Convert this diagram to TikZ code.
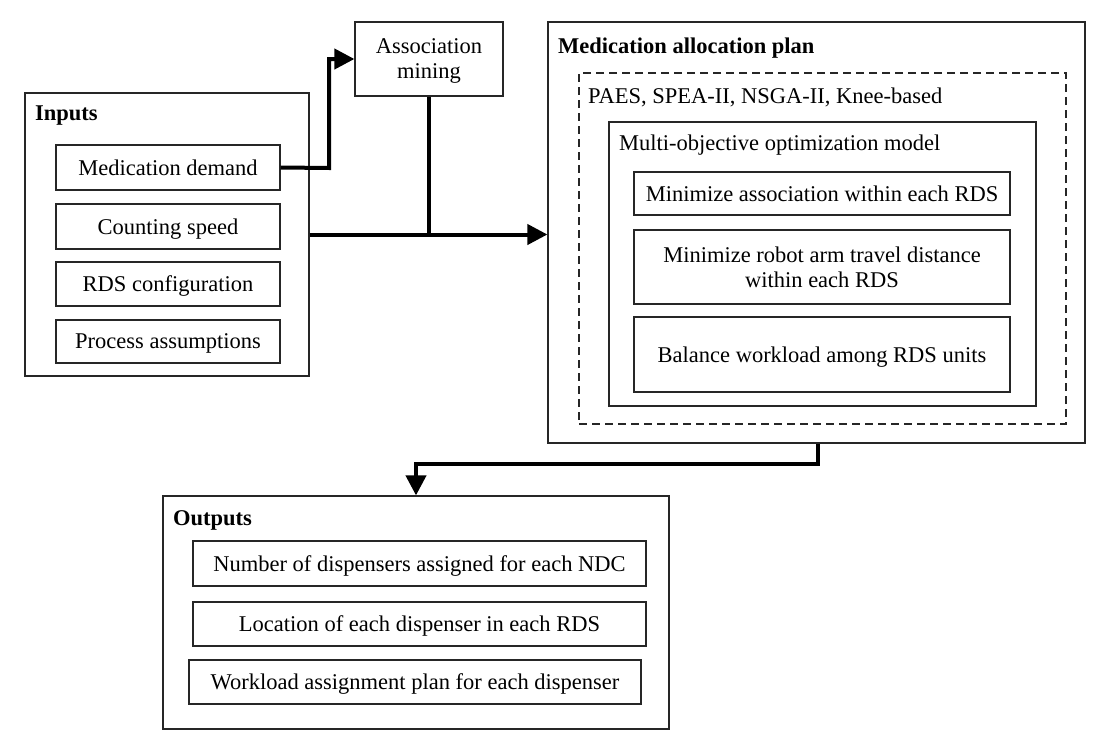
\documentclass[tikz,border=0pt]{standalone}
\usepackage{fontspec}
\setmainfont{Liberation Serif}
\usetikzlibrary{arrows.meta}
\tikzset{
  box/.style={draw=black!85, line width=1.2pt, rectangle, inner sep=0pt, align=center,
    text depth=0pt, font=\fontsize{22.5}{25}\selectfont},
  frame/.style={draw=black!85, line width=1.2pt, rectangle, inner sep=0pt},
  dashframe/.style={draw=black!85, line width=1.2pt, rectangle, inner sep=0pt, dash pattern=on 8pt off 5pt},
  title/.style={anchor=base west, inner sep=0pt, font=\fontsize{22.5}{25}\selectfont\bfseries},
  label/.style={anchor=base west, inner sep=0pt, font=\fontsize{22.5}{25}\selectfont},
  conn/.style={line width=4pt, line join=miter},
  arr/.style={conn, -{Triangle[length=20pt,width=20pt]}}
}
\begin{document}
\begin{tikzpicture}[x=1pt,y=-1pt]
\useasboundingbox (0,0) rectangle (1100,736);
% Inputs
\node[frame, minimum width=284pt, minimum height=283pt] (inputs) at (167,234.5) {};
\node[title] (inputsT) at (35,120) {Inputs};
\node[box, minimum width=224pt, minimum height=45pt] (md) at (168,167.5) {Medication demand};
\node[box, minimum width=224pt, minimum height=45pt] (cs) at (168,226.5) {Counting speed};
\node[box, minimum width=224pt, minimum height=44pt] (rds) at (168,284) {RDS configuration};
\node[box, minimum width=224pt, minimum height=43pt] (pa) at (168,341.5) {Process assumptions};
% Association mining
\node[box, minimum width=148pt, minimum height=74pt] (assoc) at (429,59) {Association\\mining};
% Plan
\node[frame, minimum width=537pt, minimum height=421pt] (plan) at (816.5,232.5) {};
\node[title] (planT) at (558,53) {Medication allocation plan};
\node[dashframe, minimum width=487pt, minimum height=351pt] (algo) at (822.5,248.5) {};
\node[label] (algoT) at (588,103) {PAES, SPEA-II, NSGA-II, Knee-based};
\node[frame, minimum width=427pt, minimum height=284pt] (model) at (822.5,264) {};
\node[label] (modelT) at (619,150) {Multi-objective optimization model};
\node[box, minimum width=376pt, minimum height=43pt] (o1) at (822,193.5) {Minimize association within each RDS};
\node[box, minimum width=376pt, minimum height=74pt] (o2) at (822,267) {Minimize robot arm travel distance\\within each RDS};
\node[box, minimum width=376pt, minimum height=75pt] (o3) at (822,354.5) {Balance workload among RDS units};
% Outputs
\node[frame, minimum width=506pt, minimum height=233pt] (outputs) at (416,612.5) {};
\node[title] (outputsT) at (173,525) {Outputs};
\node[box, minimum width=453pt, minimum height=45pt] (r1) at (419.5,563.5) {Number of dispensers assigned for each NDC};
\node[box, minimum width=453pt, minimum height=44pt] (r2) at (419.5,624) {Location of each dispenser in each RDS};
\node[box, minimum width=452pt, minimum height=44pt] (r3) at (415,682) {Workload assignment plan for each dispenser};
% Connectors
\coordinate (bend1) at (329,168);
\draw[arr] (md.east) -- (bend1) |- (assoc.west);
\coordinate (join) at (assoc.south |- inputs.east);
\draw[conn] (assoc.south) -- (join);
\draw[arr] (inputs.east) -- (inputs.east -| plan.west);
\coordinate (drop) at (818,464);
\draw[arr] ([xshift=1.5pt]plan.south) -- (drop) -| (outputs.north);
\end{tikzpicture}
\end{document}
